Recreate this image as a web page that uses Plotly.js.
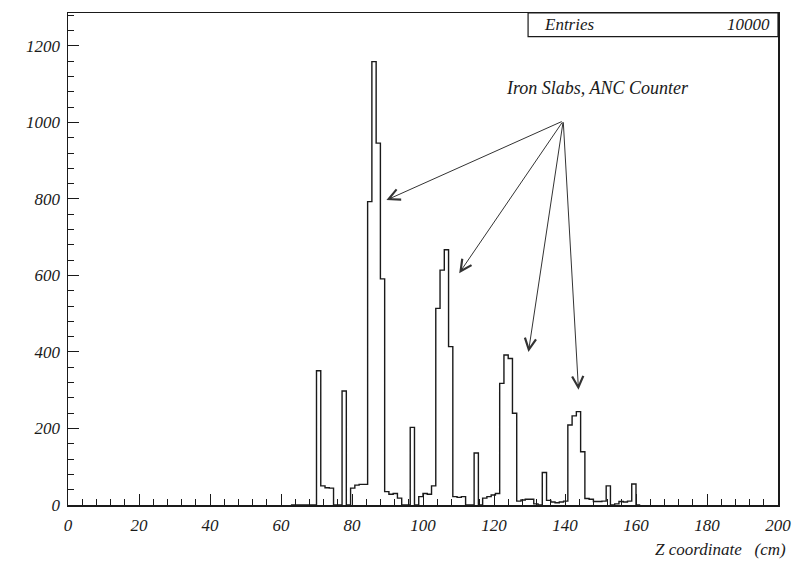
<!DOCTYPE html>
<html>
<head>
<meta charset="utf-8">
<script src="https://cdn.plot.ly/plotly-3.0.1.min.js"></script>
<style>html,body{margin:0;padding:0;background:#fff;}#chart{width:795px;height:567px;}</style>
</head>
<body>
<div id="chart"></div>
<script>
// Histogram definition: low edge of first bin and bin width (cm)
var histStart = 62.8;
var binWidth = 1.2;
// Entries per bin, starting at histStart
var counts = [
  0, 0, 0, 0, 0, 0,            // 62.8 - 70.0
  351, 50, 45, 44, 0, 0,       // 70.0 - 77.2
  298, 0, 44, 52, 54, 54,      // 77.2 - 84.4
  793, 1159, 946, 591,         // 84.4 - 89.2
  35, 28, 30, 18, 0, 0,        // 89.2 - 96.4
  203, 0, 22, 30, 28, 50,      // 96.4 - 103.6
  514, 614, 667, 414,          // 103.6 - 108.4
  22, 20, 22, 0, 0,            // 108.4 - 114.4
  136, 0, 18, 22, 26, 30,      // 114.4 - 121.6
  318, 392, 383, 240,          // 121.6 - 126.4
  10, 13, 15, 15, 3, 0,        // 126.4 - 133.6
  85, 12, 8, 6, 8, 10,         // 133.6 - 140.8
  209, 233, 244, 139,          // 140.8 - 145.6
  17, 15, 9, 9, 10,            // 145.6 - 151.6
  50, 0, 3, 9, 8, 10,          // 151.6 - 158.8
  55, 0                        // 158.8 - 161.2
];
var xTickLabels = ['0','20','40','60','80','100','120','140','160','180','200'];
var xTickVals = [0,20,40,60,80,100,120,140,160,180,200];
var yTickVals = [0,200,400,600,800,1000,1200];
var yTickLabels = ['0','200','400','600','800','1000','1200'];
var entries = 10000;
var xTitle = 'Z coordinate\u00a0\u00a0\u00a0(cm)';
var noteText = 'Iron Slabs, ANC Counter';
// arrow tips and common tail, in data units (cm, entries)
var arrowTipsX = [89.7, 110.2, 129.7, 143.8];
var arrowTipsY = [797, 606, 400, 301];
var arrowTailX = 139.5;
var arrowTailY = 1004;

// Build step outline
var hx = [], hy = [];
for (var i = 0; i < counts.length; i++) {
  hx.push(histStart + i * binWidth);
  hy.push(counts[i]);
}
hx.push(histStart + counts.length * binWidth);
hy.push(0);

var serif = '"Liberation Serif", "Times New Roman", serif';
var ink = '#1a1a1a';

var trace = {
  type: 'scatter', mode: 'lines', x: hx, y: hy,
  line: {shape: 'hv', color: ink, width: 1.4},
  hoverinfo: 'skip', showlegend: false
};

var annotations = [
  {xref: 'paper', yref: 'paper', x: 0.667, y: 0.976, xanchor: 'left', yanchor: 'middle',
   text: 'Entries', showarrow: false, font: {family: serif, size: 17, style: 'italic', color: ink}},
  {xref: 'paper', yref: 'paper', x: 0.992, y: 0.976, xanchor: 'right', yanchor: 'middle',
   text: String(entries), showarrow: false, font: {family: serif, size: 17, style: 'italic', color: ink}},
  {xref: 'paper', yref: 'paper', x: 0.7455, y: 0.848, xanchor: 'center', yanchor: 'middle',
   text: noteText, showarrow: false, font: {family: serif, size: 18, style: 'italic', color: ink}},
  {xref: 'paper', yref: 'paper', x: 1.0144, y: -0.0895, xanchor: 'right', yanchor: 'middle',
   text: xTitle, showarrow: false, font: {family: serif, size: 17, style: 'italic', color: ink}}
];
for (var k = 0; k < arrowTipsX.length; k++) {
  annotations.push({
    xref: 'x', yref: 'y', axref: 'x', ayref: 'y',
    x: arrowTipsX[k], y: arrowTipsY[k], ax: arrowTailX, ay: arrowTailY,
    text: '', showarrow: true, arrowhead: 5, arrowsize: 2.2, arrowwidth: 1, arrowcolor: '#333'
  });
}

var axisFont = {family: serif, size: 17, style: 'italic', color: ink};

var layout = {
  width: 795, height: 567,
  margin: {l: 68, r: 17, t: 13, b: 62, pad: 0},
  paper_bgcolor: '#ffffff', plot_bgcolor: '#ffffff',
  showlegend: false,
  font: {family: serif},
  xaxis: {
    range: [0, 200], tickmode: 'array', tickvals: xTickVals, ticktext: xTickLabels,
    ticks: 'inside', ticklen: 11, tickwidth: 1, tickcolor: ink,
    minor: {dtick: 4, tick0: 0, ticks: 'inside', ticklen: 6, tickwidth: 1, tickcolor: ink, showgrid: false},
    showline: true, mirror: true, linecolor: ink, linewidth: 1.5,
    showgrid: false, zeroline: false, tickfont: axisFont, ticklabelstandoff: 4
  },
  yaxis: {
    range: [0, 1286], tickmode: 'array', tickvals: yTickVals, ticktext: yTickLabels,
    ticks: 'inside', ticklen: 11, tickwidth: 1, tickcolor: ink,
    minor: {dtick: 40, tick0: 0, ticks: 'inside', ticklen: 6, tickwidth: 1, tickcolor: ink, showgrid: false},
    showline: true, mirror: true, linecolor: ink, linewidth: 1.5,
    showgrid: false, zeroline: false, tickfont: axisFont, ticklabelstandoff: 3
  },
  shapes: [
    {type: 'rect', xref: 'paper', yref: 'paper', x0: 0.648, x1: 1, y0: 0.952, y1: 1,
     line: {color: ink, width: 1.2}, fillcolor: 'rgba(0,0,0,0)'}
  ],
  annotations: annotations
};

Plotly.newPlot('chart', [trace], layout, {staticPlot: true, displayModeBar: false});
</script>
</body>
</html>
